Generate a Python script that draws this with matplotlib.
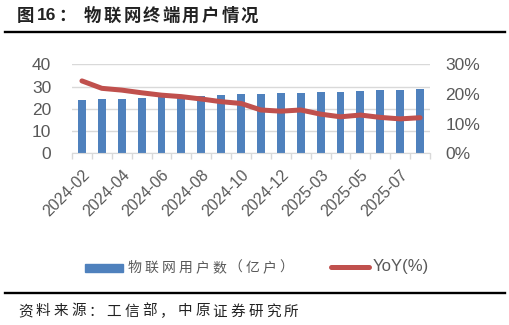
import numpy as np
import matplotlib.pyplot as plt
from matplotlib.lines import Line2D
from matplotlib.patches import Rectangle

months = ['2024-02', '2024-03', '2024-04', '2024-05', '2024-06', '2024-07',
          '2024-08', '2024-09', '2024-10', '2024-11', '2024-12', '2025-02',
          '2025-03', '2025-04', '2025-05', '2025-06', '2025-07', '2025-08']
users = [23.9, 24.4, 24.5, 25.0, 25.4, 25.6, 25.9, 26.2, 26.5,
         26.6, 26.9, 27.3, 27.5, 27.7, 28.0, 28.5, 28.6, 29.0]
yoy = [0.244, 0.219, 0.213, 0.204, 0.196, 0.191, 0.183, 0.174, 0.168,
       0.146, 0.142, 0.146, 0.132, 0.123, 0.129, 0.121, 0.116, 0.120]

title = '物联网终端用户情况'
source = '资料来源：工信部，中原证券研究所'
bar_name = '物联网用户数（亿户）'
line_name = 'YoY(%)'

blue = '#4F81BD'
red = '#C0504D'
grey = '#595959'
light = '#D9D9D9'
cjk = ['Noto Sans CJK SC', 'DejaVu Sans']
latin = 'Liberation Sans'

W, H = 510, 325
fig = plt.figure(figsize=(W / 100, H / 100), dpi=100)


def px(x, y):
    return x / W, 1 - y / H


def spaced(s, x, y, step, **kw):
    # draw characters one by one to mimic the wide letter spacing
    for i, ch in enumerate(s):
        fig.text(*px(x + i * step, y), ch, va='center', ha='left', **kw)


# title and rules
tk = dict(va='center', fontsize=12.5, fontweight='bold', color='#222222')
fig.text(*px(17, 16), '图', ha='left', family=cjk, **tk)
fig.text(*px(37, 16), '16', ha='left', family='Liberation Sans', **tk)
fig.text(*px(67, 16), '：', ha='center', family=cjk, **tk)
spaced(title, 84, 16, 19.6, fontsize=12.5, fontweight='bold', family=cjk,
       color='#222222')
for yy in (31.7, 292.7):
    fig.add_artist(Line2D([5 / W, 505 / W], [1 - yy / H] * 2, color='black',
                          lw=1.7, transform=fig.transFigure))
spaced(source, 18, 311.5, 17.7, fontsize=10.5, family=cjk, color='#222222')

# axes
x0, x1, ytop, ybot = 72, 430, 64.3, 153.3
ax = fig.add_axes([x0 / W, 1 - ybot / H, (x1 - x0) / W, (ybot - ytop) / H])
ax2 = ax.twinx()
x = np.arange(len(months))

ax.bar(x, users, width=0.4, color=blue, zorder=2)
ax2.plot(x, yoy, color=red, lw=3.6, solid_capstyle='round', zorder=3)

ax.set_xlim(-0.5, len(months) - 0.5)
ax.set_ylim(0, 40)
ax.set_yticks([0, 10, 20, 30, 40])
ax2.set_ylim(0, 0.3)
ax2.set_yticks([0, 0.1, 0.2, 0.3])
ax2.set_yticklabels(['0%', '10%', '20%', '30%'])
ax.grid(axis='y', color=light, lw=1, zorder=0)
ax.set_axisbelow(True)

for a in (ax, ax2):
    for s in ('top', 'left', 'right'):
        a.spines[s].set_visible(False)
    a.spines['bottom'].set_color(light)
ax2.spines['bottom'].set_visible(False)

ax.set_xticks(x[::2])
ax.set_xticklabels(months[::2], rotation=45, ha='right',
                   rotation_mode='anchor')
ax.set_xticks(np.arange(-0.5, len(months), 1), minor=True)
ax.tick_params(axis='x', which='major', length=0, pad=10,
               labelsize=11.5, labelcolor=grey)
ax.tick_params(axis='x', which='minor', length=4, color=light, width=1)
ax.tick_params(axis='y', length=0, pad=15, labelsize=12.5, labelcolor=grey)
ax2.tick_params(axis='y', length=0, pad=11, labelsize=12.5, labelcolor=grey)
for lab in ax.get_xticklabels() + ax.get_yticklabels() + ax2.get_yticklabels():
    lab.set_family(latin)

# legend
fig.add_artist(Rectangle(px(85, 272), 38 / W, 8 / H, color=blue,
                         transform=fig.transFigure))
spaced(bar_name, 128, 268, 16.8, fontsize=10, family=cjk, color=grey)
fig.add_artist(Line2D([331 / W, 369 / W], [1 - 267 / H] * 2, color=red,
                      lw=3.6, solid_capstyle='round',
                      transform=fig.transFigure))
fig.text(*px(373, 266), line_name, va='center', ha='left', fontsize=12,
         family=latin, color=grey)

fig.savefig('out.png', dpi=100)
